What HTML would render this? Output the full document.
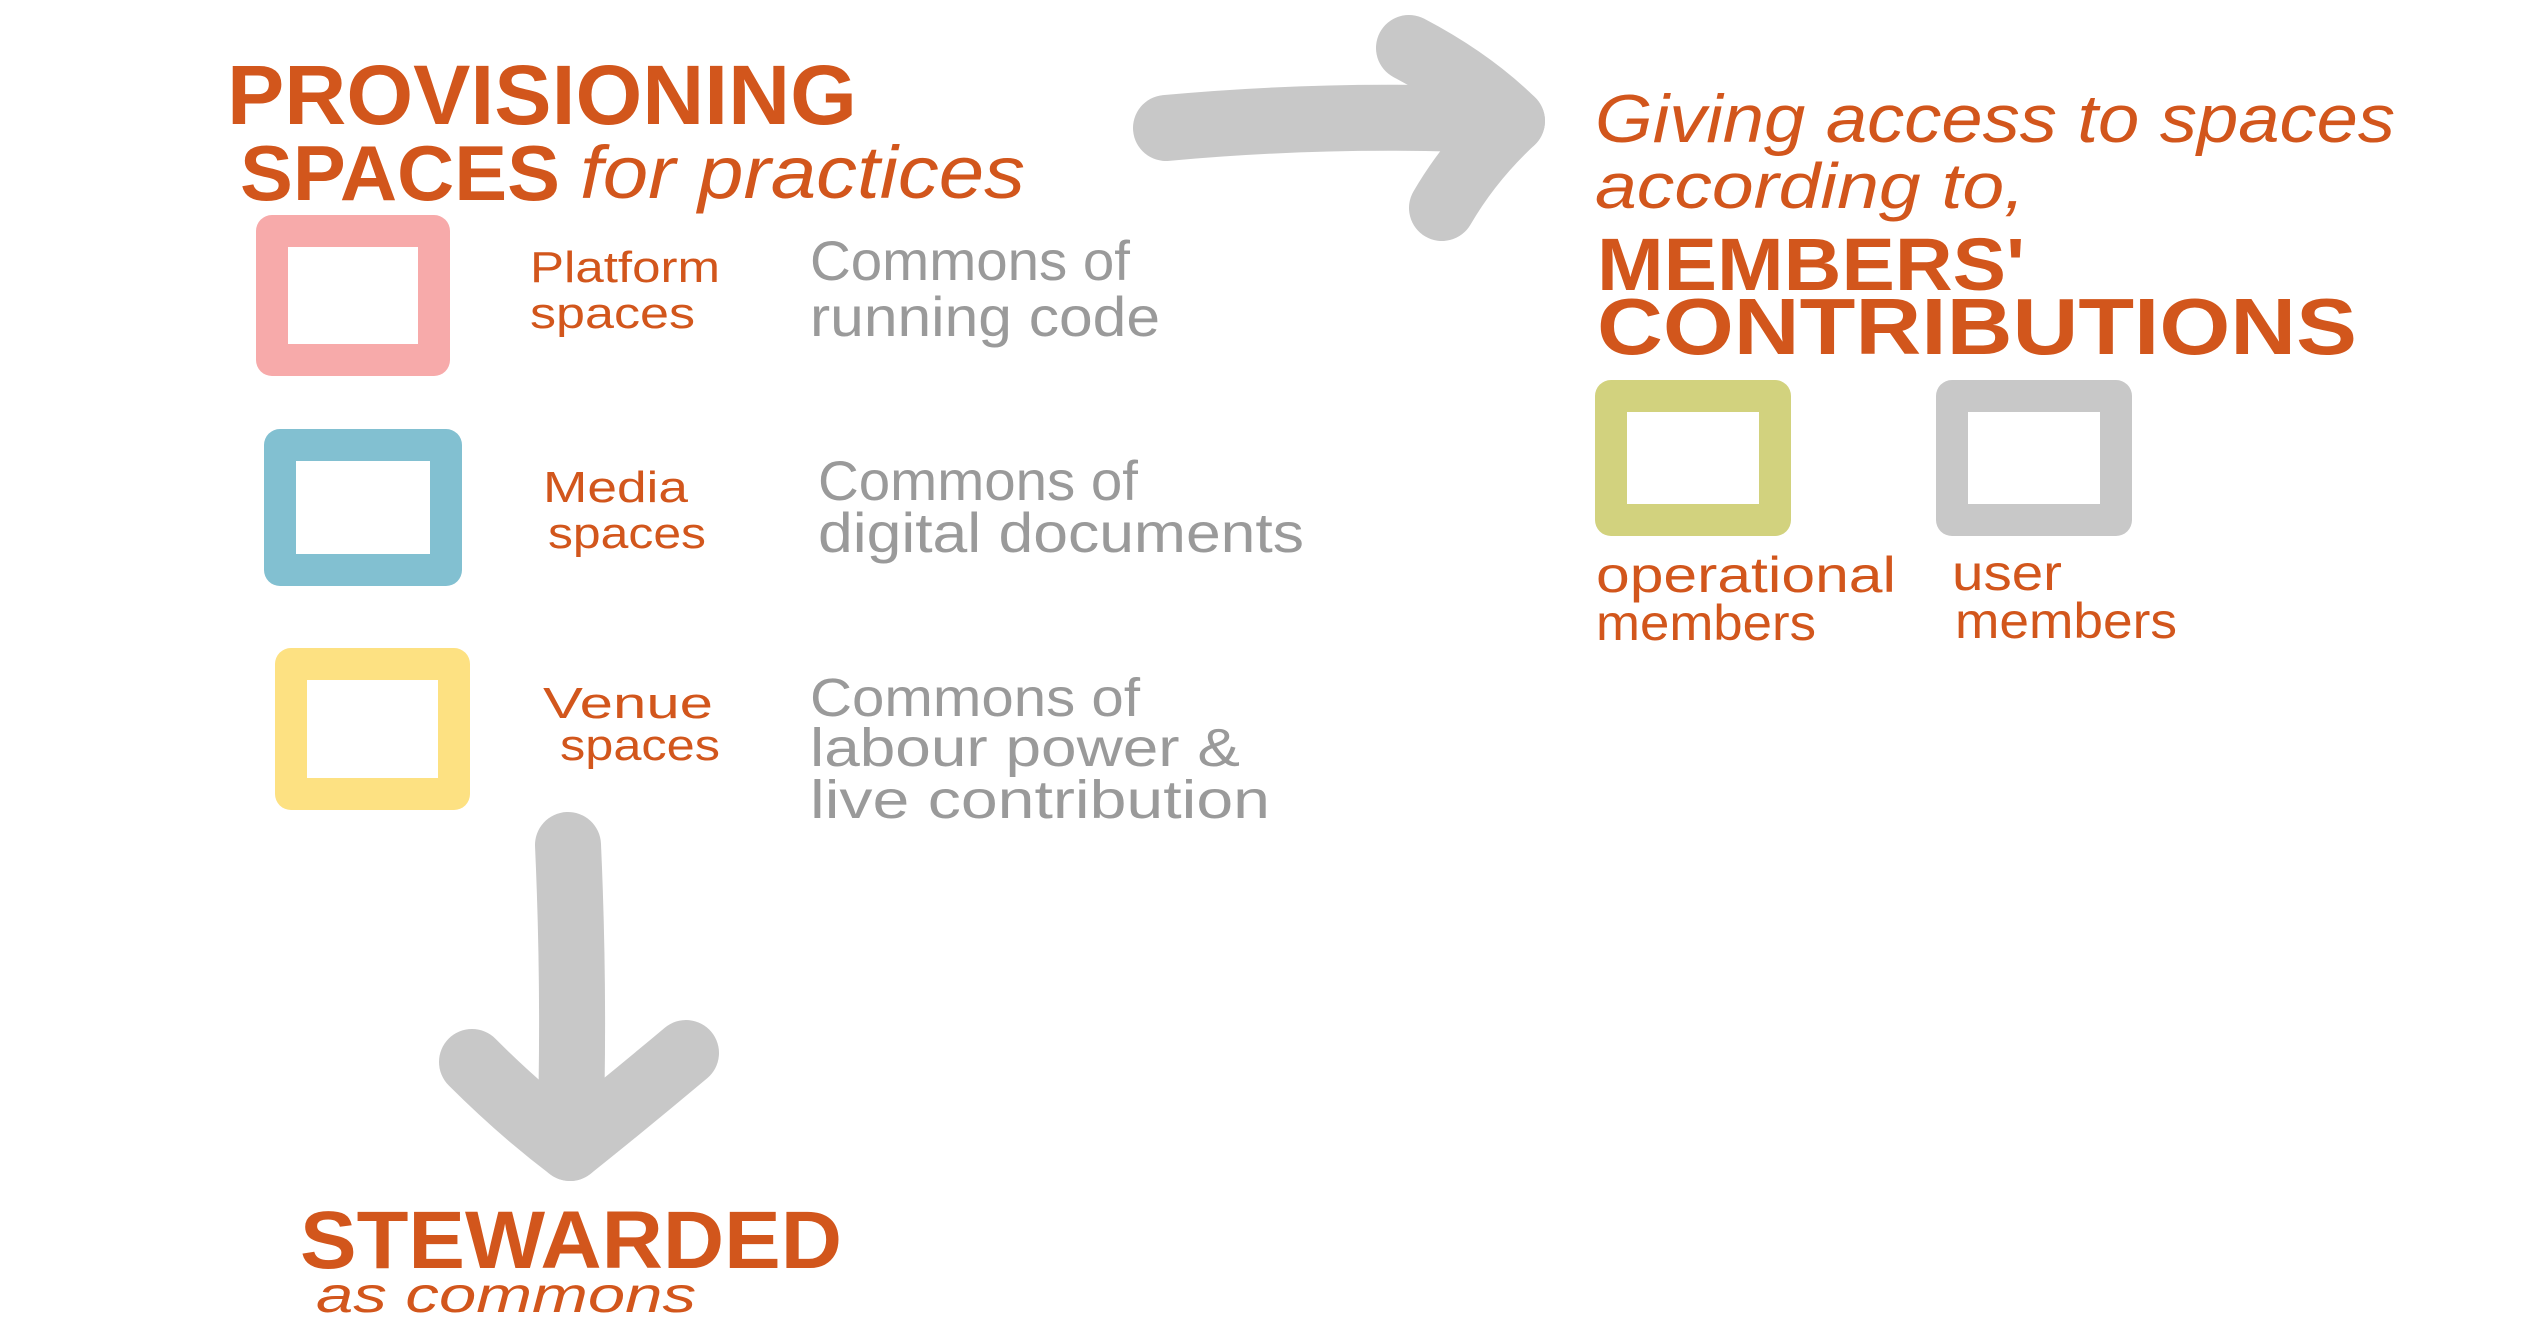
<!DOCTYPE html>
<html>
<head>
<meta charset="utf-8">
<style>
html,body{margin:0;padding:0;background:#fff;}
svg{display:block;}
text{font-family:"Liberation Sans",sans-serif;}
.o{fill:#d2561c;}
.g{fill:#9a9a9a;}
</style>
</head>
<body>
<svg width="2526" height="1334" viewBox="0 0 2526 1334" xmlns="http://www.w3.org/2000/svg">
<rect width="2526" height="1334" fill="#fff"/>

<!-- Title left -->
<text class="o" x="227" y="124" font-size="84" font-weight="bold" textLength="630" lengthAdjust="spacingAndGlyphs">PROVISIONING</text>
<text class="o" x="240" y="200" font-size="78" font-weight="bold" textLength="320" lengthAdjust="spacingAndGlyphs">SPACES</text>
<text class="o" x="580" y="198" font-size="74" font-style="italic" textLength="445" lengthAdjust="spacingAndGlyphs">for practices</text>

<!-- Boxes -->
<rect x="272" y="231" width="162" height="129" fill="none" stroke="#f7aaaa" stroke-width="32" stroke-linejoin="round"/>
<rect x="280" y="445" width="166" height="125" fill="none" stroke="#82c0d1" stroke-width="32" stroke-linejoin="round"/>
<rect x="291" y="664" width="163" height="130" fill="none" stroke="#fde182" stroke-width="32" stroke-linejoin="round"/>

<!-- Labels -->
<text class="o" x="530" y="282" font-size="44" textLength="190" lengthAdjust="spacingAndGlyphs">Platform</text>
<text class="o" x="530" y="328" font-size="44" textLength="165" lengthAdjust="spacingAndGlyphs">spaces</text>
<text class="g" x="810" y="280" font-size="56" textLength="320" lengthAdjust="spacingAndGlyphs">Commons of</text>
<text class="g" x="810" y="336" font-size="56" textLength="350" lengthAdjust="spacingAndGlyphs">running code</text>

<text class="o" x="543" y="502" font-size="44" textLength="145" lengthAdjust="spacingAndGlyphs">Media</text>
<text class="o" x="548" y="548" font-size="44" textLength="158" lengthAdjust="spacingAndGlyphs">spaces</text>
<text class="g" x="818" y="500" font-size="56" textLength="320" lengthAdjust="spacingAndGlyphs">Commons of</text>
<text class="g" x="818" y="552" font-size="56" textLength="486" lengthAdjust="spacingAndGlyphs">digital documents</text>

<text class="o" x="543" y="718" font-size="44" textLength="170" lengthAdjust="spacingAndGlyphs">Venue</text>
<text class="o" x="560" y="760" font-size="44" textLength="160" lengthAdjust="spacingAndGlyphs">spaces</text>
<text class="g" x="810" y="716" font-size="54" textLength="330" lengthAdjust="spacingAndGlyphs">Commons of</text>
<text class="g" x="810" y="766" font-size="54" textLength="430" lengthAdjust="spacingAndGlyphs">labour power &amp;</text>
<text class="g" x="810" y="818" font-size="54" textLength="460" lengthAdjust="spacingAndGlyphs">live contribution</text>

<!-- Arrows -->
<g fill="none" stroke="#c8c8c8" stroke-width="66" stroke-linecap="round" stroke-linejoin="round">
<path d="M1166 128 Q1340 112 1512 121"/>
<path d="M1409 48 Q1470 80 1512 121 Q1470 160 1442 208"/>
<path d="M568 845 Q575 1000 570 1148"/>
<path d="M472 1062 Q520 1110 570 1148 Q630 1100 686 1053"/>
</g>

<!-- Stewarded -->
<text class="o" x="300" y="1268" font-size="82" font-weight="bold" textLength="542" lengthAdjust="spacingAndGlyphs">STEWARDED</text>
<text class="o" x="316" y="1312" font-size="50" font-style="italic" textLength="380" lengthAdjust="spacingAndGlyphs">as commons</text>

<!-- Right title -->
<text class="o" x="1595" y="142" font-size="68" font-style="italic" textLength="800" lengthAdjust="spacingAndGlyphs">Giving access to spaces</text>
<text class="o" x="1595" y="208" font-size="64" font-style="italic" textLength="430" lengthAdjust="spacingAndGlyphs">according to,</text>
<text class="o" x="1597" y="290" font-size="74" font-weight="bold" textLength="428" lengthAdjust="spacingAndGlyphs">MEMBERS'</text>
<text class="o" x="1597" y="354" font-size="80" font-weight="bold" textLength="760" lengthAdjust="spacingAndGlyphs">CONTRIBUTIONS</text>

<rect x="1611" y="396" width="164" height="124" fill="none" stroke="#d2d27e" stroke-width="32" stroke-linejoin="round"/>
<rect x="1952" y="396" width="164" height="124" fill="none" stroke="#c8c8c8" stroke-width="32" stroke-linejoin="round"/>

<text class="o" x="1596" y="592" font-size="50" textLength="300" lengthAdjust="spacingAndGlyphs">operational</text>
<text class="o" x="1596" y="640" font-size="50" textLength="220" lengthAdjust="spacingAndGlyphs">members</text>
<text class="o" x="1952" y="590" font-size="50" textLength="110" lengthAdjust="spacingAndGlyphs">user</text>
<text class="o" x="1955" y="638" font-size="50" textLength="222" lengthAdjust="spacingAndGlyphs">members</text>
</svg>
</body>
</html>
